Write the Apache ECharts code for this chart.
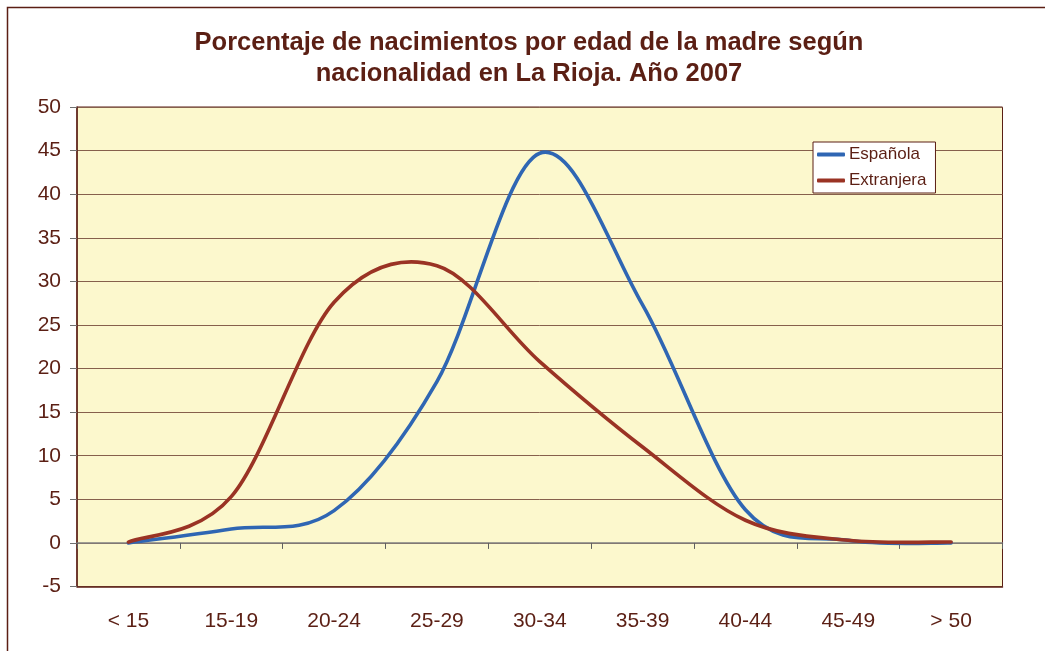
<!DOCTYPE html>
<html>
<head>
<meta charset="utf-8">
<script src="https://cdn.jsdelivr.net/npm/echarts@6/dist/echarts.min.js"></script>
<style>html,body{margin:0;padding:0;background:#fff;}#c{width:1045px;height:651px;}</style>
</head>
<body>
<div id="c"></div>
<script>
const categories = ['< 15', '15-19', '20-24', '25-29', '30-34', '35-39', '40-44', '45-49', '> 50'];
const espanola = [0.0, 1.6, 3.7, 18.5, 44.7, 27.3, 3.8, 0.3, 0.0];
const extranjera = [0.1, 5.3, 27.6, 31.8, 20.8, 11.0, 2.6, 0.3, 0.1];
const seriesNames = ['Española', 'Extranjera'];
const seriesColors = ['#2f66b3', '#9a3324'];
const titleText = 'Porcentaje de nacimientos por edad de la madre según\nnacionalidad en La Rioja. Año 2007';

const brown = '#5b1f14';
const font = 'Liberation Sans, Arial, sans-serif';

// Smoothed line drawn like a spreadsheet's smoothed line: cubic Bezier through
// every data point, positions taken from the chart's own axes (api.coord).
function smoothRenderer(values, color) {
  return function (params, api) {
    if (params.dataIndex !== 0) return null;
    const p = values.map((v, i) => api.coord([i, v]));
    const n = p.length;
    let d = 'M' + p[0][0] + ' ' + p[0][1];
    for (let i = 0; i < n - 1; i++) {
      const p0 = p[Math.max(i - 1, 0)], p1 = p[i], p2 = p[i + 1], p3 = p[Math.min(i + 2, n - 1)];
      const c1x = p1[0] + (p2[0] - p0[0]) / 6, c1y = p1[1] + (p2[1] - p0[1]) / 6;
      const c2x = p2[0] - (p3[0] - p1[0]) / 6, c2y = p2[1] - (p3[1] - p1[1]) / 6;
      d += ' C' + c1x + ' ' + c1y + ' ' + c2x + ' ' + c2y + ' ' + p2[0] + ' ' + p2[1];
    }
    return {
      type: 'path',
      shape: {pathData: d},
      style: {stroke: color, lineWidth: 3.6, fill: null, lineCap: 'round', lineJoin: 'round'}
    };
  };
}

const chart = echarts.init(document.getElementById('c'), null, {renderer: 'canvas'});
chart.setOption({
  animation: false,
  backgroundColor: '#ffffff',
  graphic: [{
    type: 'rect', shape: {x: 7.5, y: 7.5, width: 1200, height: 800},
    style: {fill: 'none', stroke: brown, lineWidth: 1.5}, silent: true, z: -1
  }],
  title: {
    text: titleText, left: 524, top: 22, textAlign: 'center',
    textStyle: {fontFamily: font, fontSize: 25.5, fontWeight: 'bold', color: brown, lineHeight: 31}
  },
  legend: {
    data: seriesNames, orient: 'vertical', left: 813, top: 142,
    backgroundColor: '#ffffff', borderColor: brown, borderWidth: 1,
    padding: [4, 9, 4, 4], itemGap: 9, itemWidth: 28, itemHeight: 4, icon: 'roundRect',
    textStyle: {fontFamily: font, fontSize: 17, color: brown, lineHeight: 17, padding: [0, 0, 0, -1]}
  },
  grid: {
    left: 77, right: 42.5, top: 107, bottom: 64.5, containLabel: false,
    show: true, backgroundColor: '#fcf8cd', borderColor: brown, borderWidth: 1
  },
  xAxis: [{
    type: 'category', data: categories, boundaryGap: true, position: 'bottom',
    axisLine: {onZero: false, show: true, lineStyle: {color: brown, width: 1.5}},
    axisTick: {show: false},
    axisLabel: {fontFamily: font, fontSize: 21, color: brown, margin: 24},
    splitLine: {show: false}
  }, {
    type: 'category', data: categories, boundaryGap: true, position: 'bottom',
    axisLine: {onZero: true, show: true, lineStyle: {color: '#808080', width: 1.5}},
    axisTick: {show: true, length: 6, lineStyle: {color: '#606060', width: 1}},
    axisLabel: {show: false},
    splitLine: {show: false}
  }],
  yAxis: {
    type: 'value', min: -5, max: 50, interval: 5,
    axisLine: {show: true, lineStyle: {color: brown, width: 1.5}},
    axisTick: {show: true, length: 7, lineStyle: {color: '#707070', width: 1}},
    axisLabel: {fontFamily: font, fontSize: 21, color: brown, margin: 16},
    splitLine: {show: true, lineStyle: {color: '#86604c', width: 1}}
  },
  series: [{
    name: seriesNames[0], type: 'custom', xAxisIndex: 0,
    data: espanola.map((v, i) => [i, v]), encode: {x: 0, y: 1},
    renderItem: smoothRenderer(espanola, seriesColors[0]),
    itemStyle: {color: seriesColors[0]}, z: 3
  }, {
    name: seriesNames[1], type: 'custom', xAxisIndex: 0,
    data: extranjera.map((v, i) => [i, v]), encode: {x: 0, y: 1},
    renderItem: smoothRenderer(extranjera, seriesColors[1]),
    itemStyle: {color: seriesColors[1]}, z: 4
  }]
});
</script>
</body>
</html>
